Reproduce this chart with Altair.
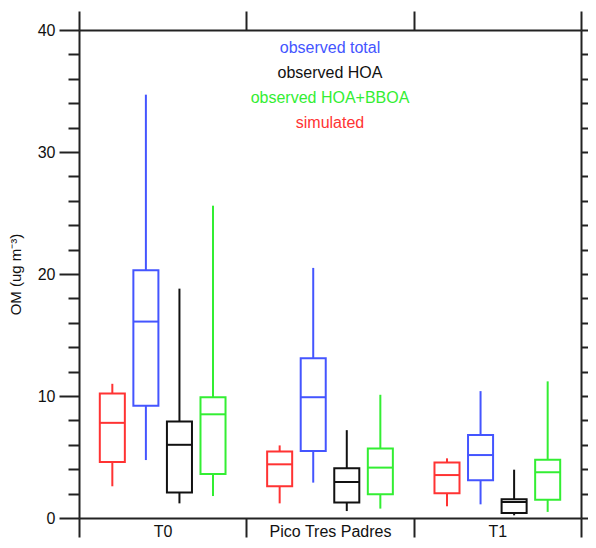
import altair as alt
import pandas as pd

sites = ["T0", "Pico Tres Padres", "T1"]
series = ["simulated", "observed total", "observed HOA", "observed HOA+BBOA"]
colors = ["#ff3333", "#4455ff", "#111111", "#33ee33"]
legend_order = ["observed total", "observed HOA", "observed HOA+BBOA", "simulated"]
legend_colors = ["#4455ff", "#111111", "#33ee33", "#ff3333"]

# per site, per series: [whisker low, q1, median, q3, whisker high]
stats = {
    "T0": {
        "simulated": [2.6, 4.6, 7.8, 10.2, 11.0],
        "observed total": [4.75, 9.2, 16.1, 20.3, 34.7],
        "observed HOA": [1.2, 2.1, 6.0, 7.9, 18.8],
        "observed HOA+BBOA": [1.8, 3.6, 8.5, 9.9, 25.6],
    },
    "Pico Tres Padres": {
        "simulated": [1.2, 2.6, 4.4, 5.45, 5.95],
        "observed total": [2.9, 5.5, 9.9, 13.1, 20.5],
        "observed HOA": [0.57, 1.28, 2.95, 4.07, 7.2],
        "observed HOA+BBOA": [0.77, 1.94, 4.13, 5.7, 10.1],
    },
    "T1": {
        "simulated": [0.96, 2.02, 3.52, 4.54, 4.89],
        "observed total": [1.12, 3.09, 5.16, 6.8, 10.4],
        "observed HOA": [0.22, 0.41, 1.31, 1.53, 3.96],
        "observed HOA+BBOA": [0.5, 1.5, 3.75, 4.78, 11.2],
    },
}

rows = []
for s in sites:
    for k in series:
        lo, q1, med, q3, hi = stats[s][k]
        rows.append(dict(site=s, series=k, lo=lo, q1=q1, med=med, q3=q3, hi=hi))
df = pd.DataFrame(rows)

W, H = 502, 488
AX = "#222222"
FONT = "Liberation Sans"
tick_values = list(range(0, 41, 2))

xscale = alt.Scale(domain=sites, paddingInner=0, paddingOuter=0)
xoff = alt.XOffset("series:N", scale=alt.Scale(domain=series, paddingInner=0.254, paddingOuter=0.62))
color = alt.Color("series:N", scale=alt.Scale(domain=series, range=colors), legend=None)
yscale = alt.Scale(domain=[0, 40], nice=False)

tick_cond = {"condition": {"test": "datum.value % 10 === 0", "value": 20}, "value": 11}
tick_cond_r = {"condition": {"test": "datum.value % 10 === 0", "value": 14}, "value": 10}

x_axis = alt.Axis(orient="bottom", tickBand="extent", tickSize=19, tickWidth=2,
                  tickColor=AX, domainColor=AX, domainWidth=2, labelAngle=0,
                  labelFontSize=16, labelFont=FONT, labelColor="#111",
                  labelPadding=-14, labelBaseline="top", labelOverlap=False)
y_axis = alt.Axis(orient="left", values=tick_values, tickSize=tick_cond,
                  tickWidth=2, tickColor=AX, domainColor=AX, domainWidth=2,
                  labelExpr="datum.value % 10 === 0 ? datum.label : ''",
                  labelOverlap=False, labelPadding=4,
                  labelFontSize=16, labelFont=FONT, labelColor="#111",
                  grid=False, titleFontSize=15, titleFont=FONT,
                  titleFontWeight="normal", titleColor="#111", titlePadding=14)
YT = "OM (ug m\u207b\u00b3)"


def X():
    return alt.X("site:N", scale=xscale, sort=sites, title=None, axis=x_axis)


def Y(field):
    return alt.Y(field, scale=yscale, title=YT, axis=y_axis)


base = alt.Chart(df)

whisk_lo = base.mark_rule(strokeWidth=2, opacity=1).encode(
    x=X(), xOffset=xoff, y=Y("lo:Q"), y2="q1:Q", color=color)
whisk_hi = base.mark_rule(strokeWidth=2, opacity=1).encode(
    x=X(), xOffset=xoff, y=Y("q3:Q"), y2="hi:Q", color=color)
box = base.mark_bar(filled=False, strokeWidth=2, opacity=1).encode(
    x=X(), xOffset=xoff, y=Y("q1:Q"), y2="q3:Q",
    stroke=alt.Stroke("series:N", scale=alt.Scale(domain=series, range=colors), legend=None))
med = base.mark_tick(thickness=2, size=25, opacity=1).encode(
    x=X(), xOffset=xoff, y=Y("med:Q"), color=color)

main = alt.layer(whisk_lo, whisk_hi, box, med)

# mirror axes (top and right)
frame = base.mark_point(opacity=0).encode(
    x=alt.X("site:N", scale=xscale, sort=sites, title=None,
            axis=alt.Axis(orient="top", tickBand="extent", tickSize=19, tickWidth=2,
                          tickColor=AX, domainColor=AX, domainWidth=2, labels=False)),
    y=alt.Y("med:Q", scale=yscale, title=None,
            axis=alt.Axis(orient="right", values=tick_values, tickSize=tick_cond_r,
                          tickWidth=2, tickColor=AX, domainColor=AX, domainWidth=2,
                          labels=False, grid=False)),
)

leg_df = pd.DataFrame({"label": legend_order, "idx": list(range(len(legend_order)))})
legend_text = alt.Chart(leg_df).mark_text(fontSize=16, font=FONT, align="center",
                                          baseline="middle").encode(
    x=alt.value(W / 2),
    y=alt.Y("idx:Q", scale=alt.Scale(domain=[0, 3], range=[18, 93]), axis=None),
    color=alt.Color("label:N", scale=alt.Scale(domain=legend_order, range=legend_colors), legend=None),
    text="label:N",
)

chart = alt.layer(main, frame, legend_text).resolve_axis(
    x="independent", y="independent"
).resolve_scale(color="independent", y="independent").properties(
    width=W, height=H,
    autosize=alt.AutoSizeParams(type="none"),
    padding={"left": 71, "top": 22, "right": 7, "bottom": 22},
    background="white",
).configure_view(stroke=None)

chart.save("out.html", embed_options={"renderer": "svg", "actions": False})
